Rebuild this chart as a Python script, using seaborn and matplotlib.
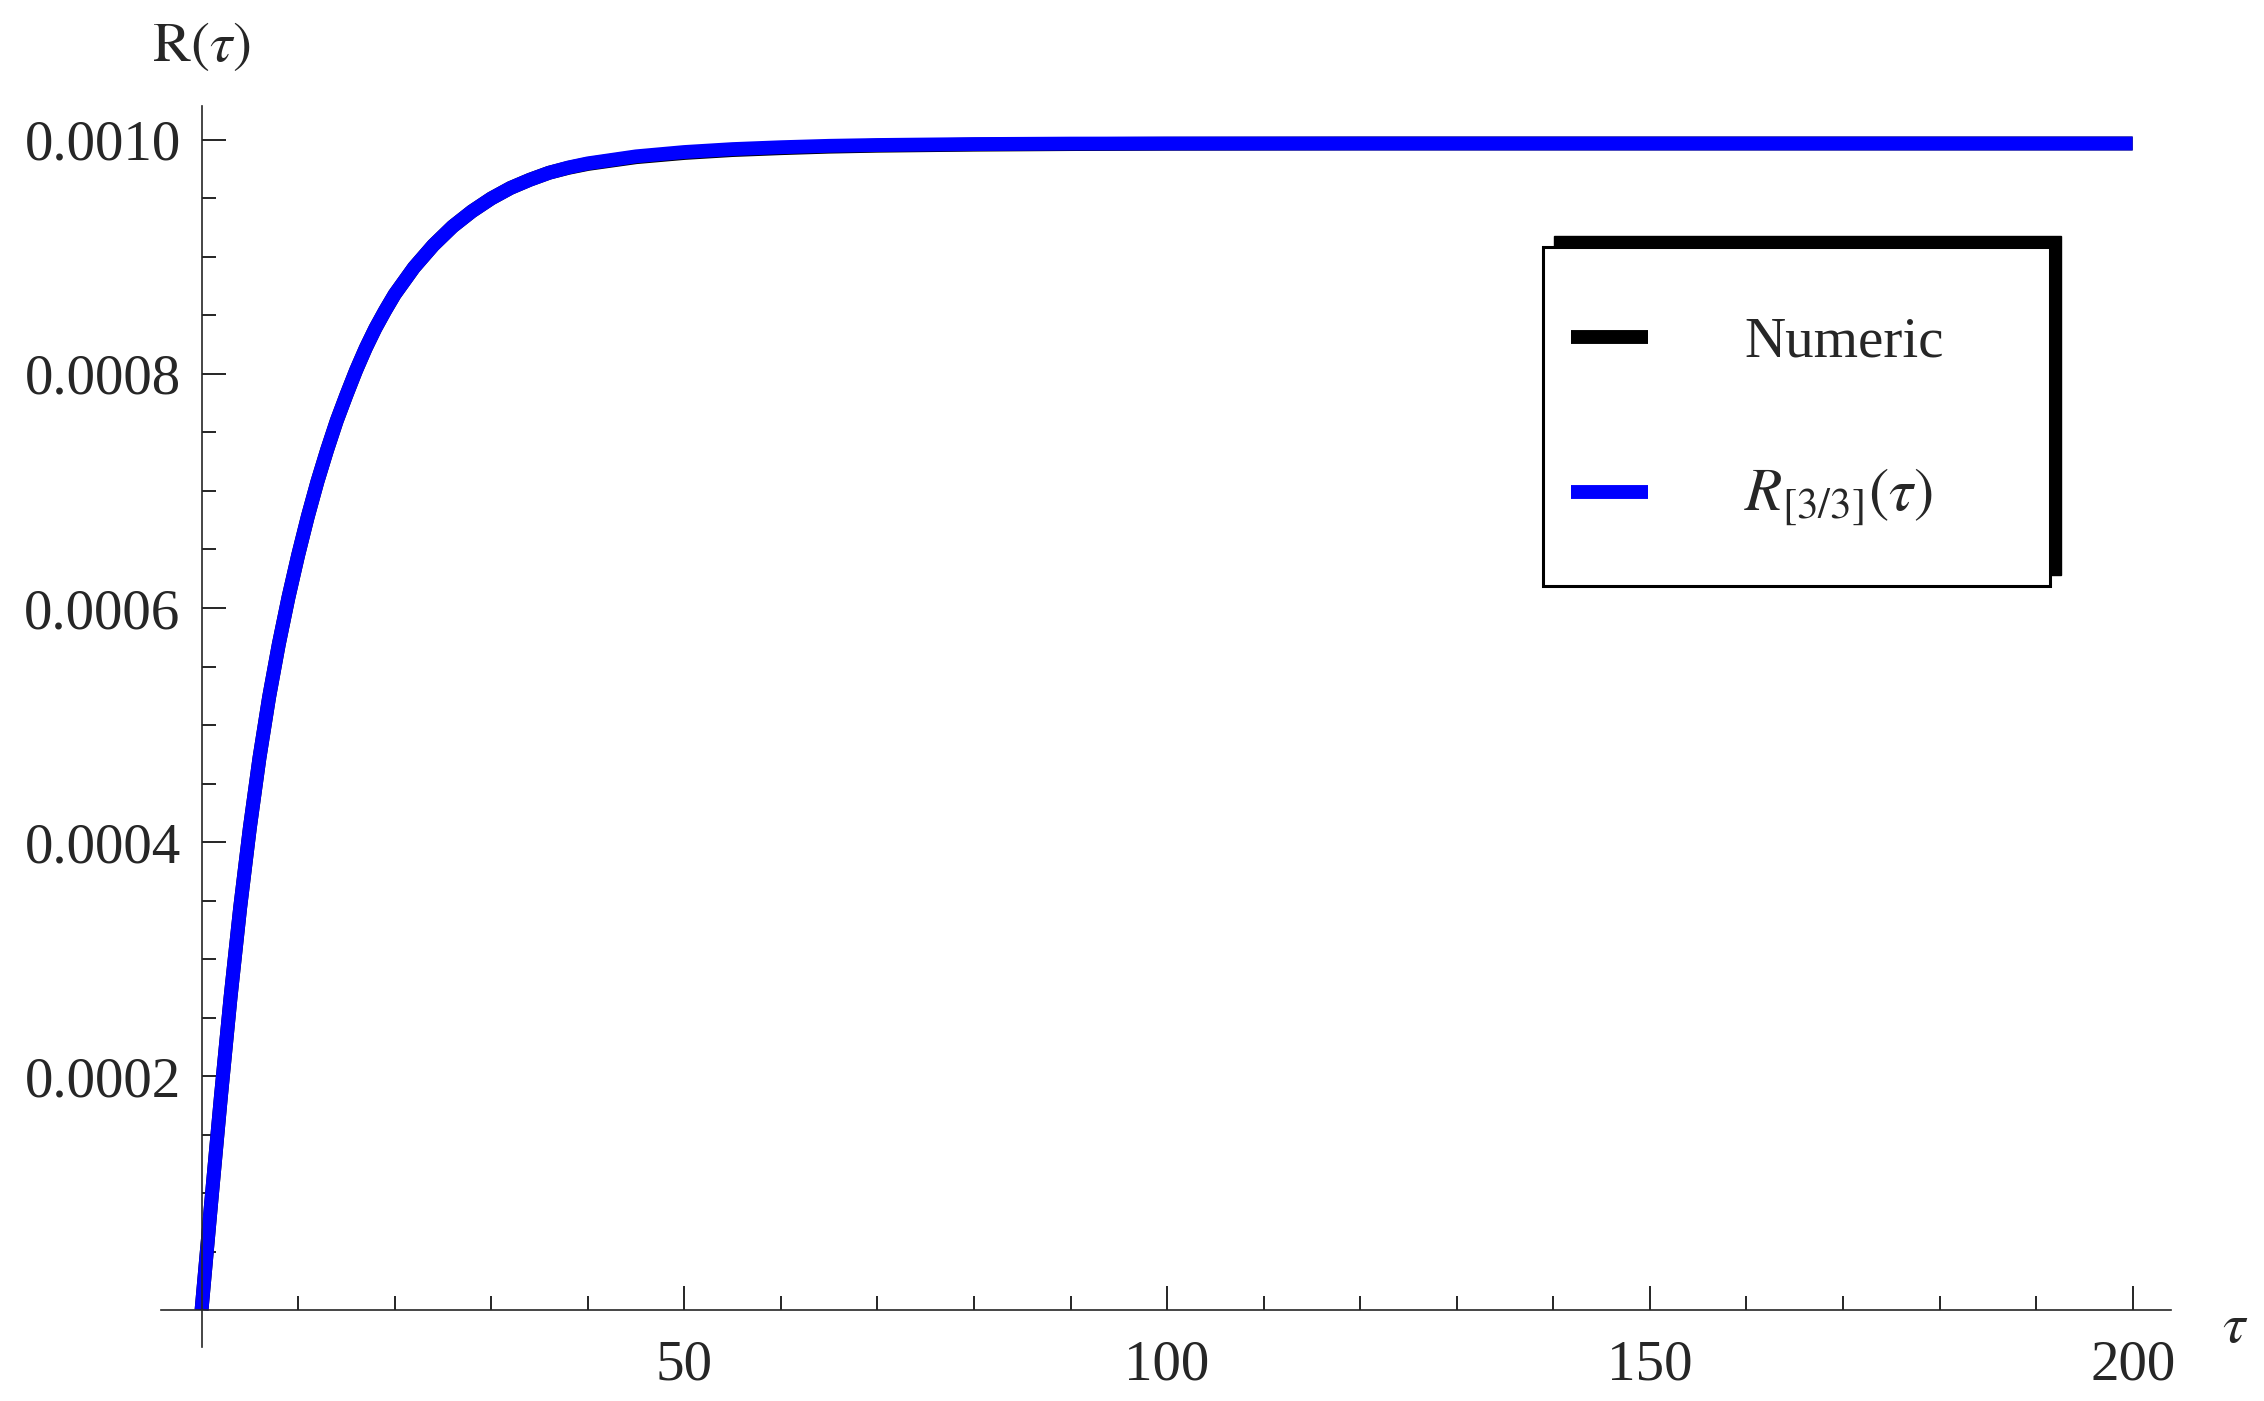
import pandas as pd
import matplotlib
matplotlib.use("Agg")
import matplotlib.pyplot as plt
import seaborn as sns
from matplotlib.patches import Rectangle
from matplotlib.ticker import FixedLocator, FuncFormatter

# values (R in units of 1e-3)
tau = [0, 1, 2, 3, 4, 5, 6, 7, 8, 9, 10, 11, 12, 13, 14, 15, 16, 17, 18, 19, 20,
       22, 24, 26, 28, 30, 32, 34, 36, 38, 40, 45, 50, 55, 60, 65, 70, 80, 90, 100,
       120, 140, 160, 180, 200]
r_pade = [0.000, 0.092, 0.182, 0.267, 0.344, 0.412, 0.472, 0.524, 0.569, 0.609, 0.645,
          0.678, 0.708, 0.735, 0.760, 0.782, 0.803, 0.822, 0.839, 0.854, 0.868,
          0.891, 0.910, 0.926, 0.939, 0.950, 0.959, 0.966, 0.972, 0.9765, 0.980,
          0.9860, 0.9897, 0.9922, 0.9938, 0.9950, 0.9957, 0.9965, 0.9969, 0.9970,
          0.9970, 0.9970, 0.9970, 0.9970, 0.9970]
r_numeric = [0.000, 0.092, 0.182, 0.267, 0.344, 0.412, 0.472, 0.524, 0.569, 0.609, 0.645,
             0.678, 0.708, 0.735, 0.760, 0.782, 0.803, 0.822, 0.839, 0.854, 0.868,
             0.891, 0.910, 0.926, 0.939, 0.950, 0.959, 0.966, 0.972, 0.9762, 0.9795,
             0.9853, 0.9889, 0.9914, 0.9930, 0.9943, 0.9951, 0.9960, 0.9965, 0.9968,
             0.9970, 0.9970, 0.9970, 0.9970, 0.9970]

lab_num = "Numeric"
lab_pade = r"$R_{[3/3]}(\tau)$"

df = pd.DataFrame({
    "tau": tau + tau,
    "R": [v * 1e-3 for v in r_numeric] + [v * 1e-3 for v in r_pade],
    "curve": [lab_num] * len(tau) + [lab_pade] * len(tau),
})

sns.set_style("ticks")
plt.rcParams["font.family"] = ["Liberation Serif", "DejaVu Serif"]
plt.rcParams["mathtext.fontset"] = "stix"

W, H = 2264, 1401
fig = plt.figure(figsize=(W / 100, H / 100), dpi=100)
# axes box in pixels: x 161..2171, y 105.7..1347
ax = fig.add_axes([161 / W, 1 - 1347 / H, 2010 / W, (1347 - 105.7) / H])

sns.lineplot(data=df, x="tau", y="R", hue="curve", hue_order=[lab_num, lab_pade],
             palette={lab_num: "black", lab_pade: "#0000ff"}, estimator=None,
             sort=False, linewidth=10, solid_capstyle="butt", ax=ax)

ax.set_xlim(-4.2, 203.97)
ax.set_ylim(-0.0000316, 0.0010293)

for s in ["top", "right"]:
    ax.spines[s].set_visible(False)
ax.spines["left"].set_position(("data", 0))
ax.spines["bottom"].set_position(("data", 0))
for s in ["left", "bottom"]:
    ax.spines[s].set_linewidth(1.2)

ax.xaxis.set_major_locator(FixedLocator([50, 100, 150, 200]))
ax.xaxis.set_minor_locator(FixedLocator([t for t in range(10, 201, 10) if t % 50]))
ax.yaxis.set_major_locator(FixedLocator([0.0002, 0.0004, 0.0006, 0.0008, 0.0010]))
ax.yaxis.set_minor_locator(FixedLocator([k * 0.00005 for k in range(1, 21) if k % 4]))
ax.xaxis.set_major_formatter(FuncFormatter(lambda v, p: f"{v:.0f}"))
ax.yaxis.set_major_formatter(FuncFormatter(lambda v, p: f"{v:.4f}"))

ax.tick_params(which="both", direction="in", width=1.2, labelsize=41, color="black")
ax.tick_params(which="major", length=17)
ax.tick_params(which="minor", length=10)
ax.tick_params(axis="x", which="major", pad=21)
ax.tick_params(axis="y", which="major", pad=15)

ax.set_xlabel(r"$\tau$", fontsize=41)
ax.xaxis.set_label_coords(1.032, 0.036)
ax.set_ylabel(r"$\mathrm{R}(\tau)$", fontsize=41, rotation=0, ha="center", va="center")
ax.yaxis.set_label_coords(0.0199, 1.0473)

# legend frame with a shadow toward the upper right
bx0, by0, bx1, by1 = 1543, 247, 2050, 586
ax.add_artist(Rectangle(((bx0 + 11) / W, 1 - (by1 - 11) / H), (bx1 - bx0) / W, (by1 - by0) / H,
                        transform=fig.transFigure, facecolor="black", edgecolor="black",
                        clip_on=False, zorder=6))
ax.add_artist(Rectangle((bx0 / W, 1 - by1 / H), (bx1 - bx0) / W, (by1 - by0) / H,
                        transform=fig.transFigure, facecolor="white", edgecolor="black",
                        linewidth=2.2, clip_on=False, zorder=7))

handles, labels = ax.get_legend_handles_labels()
leg = ax.legend(handles, labels, loc="center left",
                bbox_to_anchor=(1571 / W, 1 - 423 / H), bbox_transform=fig.transFigure,
                frameon=False, fontsize=41, borderpad=0, borderaxespad=0,
                handlelength=1.36, handletextpad=1.68, labelspacing=1.72)
leg.set_zorder(8)
leg.get_texts()[1].set_fontsize(44)
for line in leg.get_lines():
    line.set_linewidth(10)
    line.set_solid_capstyle("butt")

fig.savefig("out.png", dpi=100)
